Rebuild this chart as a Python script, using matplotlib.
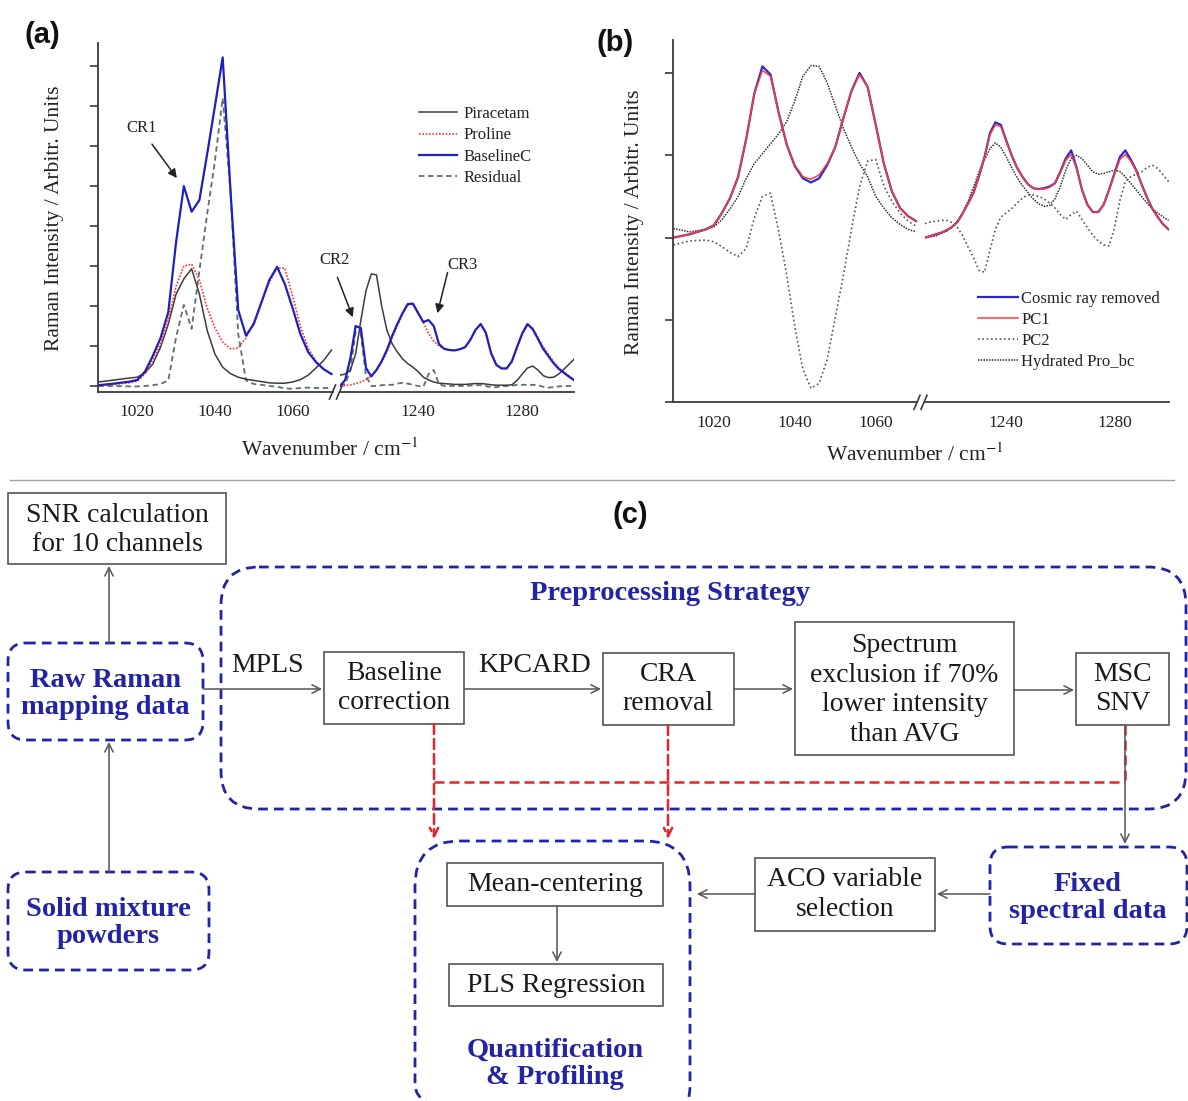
import matplotlib.pyplot as plt
from matplotlib.patches import FancyBboxPatch, Rectangle

plt.rcParams['font.family'] = ['Liberation Serif', 'DejaVu Serif']
plt.rcParams['mathtext.fontset'] = 'stix'

# ---------------- data: panel (a) ----------------
a_left_wn = [1010, 1014, 1018, 1020, 1022, 1024, 1026, 1028, 1030, 1032, 1034, 1036, 1038, 1040,
             1042, 1044, 1046, 1048, 1050, 1052, 1054, 1056, 1058, 1060, 1062, 1064, 1066, 1068, 1070]
a_piracetam_left = [0.1, 0.15, 0.2, 0.22, 0.33, 0.55, 0.97, 1.55, 2.3, 2.68, 2.93, 2.3, 1.39, 0.8,
                    0.47, 0.31, 0.22, 0.17, 0.14, 0.11, 0.08, 0.07, 0.07, 0.1, 0.16, 0.27, 0.45, 0.64, 0.9]
a_proline_left = [0.0, 0.04, 0.08, 0.12, 0.3, 0.65, 1.05, 1.65, 2.5, 3.0, 3.05, 2.65, 1.95, 1.45,
                  1.1, 0.93, 0.95, 1.2, 1.6, 2.1, 2.6, 2.95, 2.95, 2.25, 1.5, 0.95, 0.62, 0.42, 0.3]
a_baseline_left = [0.02, 0.06, 0.11, 0.15, 0.36, 0.75, 1.2, 1.85, 3.6, 5.0, 4.36, 4.65, 5.8, 7.0,
                   8.22, 4.9, 1.9, 1.26, 1.55, 2.1, 2.65, 2.98, 2.55, 1.95, 1.3, 0.85, 0.6, 0.42, 0.3]
a_residual_left = [0.0, 0.0, -0.01, -0.01, 0.0, 0.02, 0.05, 0.14, 1.22, 2.03, 1.43, 2.88, 4.3, 5.63,
                   7.2, 4.88, 1.3, 0.14, 0.05, 0.03, 0.0, -0.02, -0.06, -0.07, -0.05, -0.04, -0.05, -0.05, -0.05]

a_right_wn = [1210, 1212, 1214, 1216, 1218, 1220, 1222, 1224, 1226, 1228, 1230, 1232, 1234, 1236,
              1238, 1240, 1242, 1244, 1246, 1248, 1250, 1252, 1254, 1256, 1258, 1260, 1262, 1264,
              1266, 1268, 1270, 1272, 1274, 1276, 1278, 1280, 1282, 1284, 1286, 1288, 1290, 1292,
              1294, 1296, 1298, 1300]
a_piracetam_right = [0.27, 0.3, 0.4, 0.8, 1.64, 2.39, 2.8, 2.78, 2.0, 1.4, 1.06, 0.85, 0.68, 0.56,
                     0.47, 0.36, 0.22, 0.15, 0.1, 0.07, 0.06, 0.05, 0.04, 0.04, 0.04, 0.05, 0.06, 0.06,
                     0.05, 0.03, 0.02, 0.02, 0.02, 0.03, 0.14, 0.3, 0.45, 0.5, 0.4, 0.26, 0.21, 0.22,
                     0.3, 0.42, 0.55, 0.68]
a_proline_right = [0.0, 0.01, 0.03, 0.06, 0.1, 0.16, 0.25, 0.4, 0.6, 0.85, 1.2, 1.5, 1.8, 2.02,
                   2.05, 1.85, 1.58, 1.32, 1.12, 1.0, 0.93, 0.9, 0.89, 0.92, 0.97, 1.15, 1.4, 1.55,
                   1.35, 0.85, 0.55, 0.44, 0.43, 0.6, 0.97, 1.3, 1.52, 1.45, 1.22, 0.98, 0.8, 0.6,
                   0.45, 0.35, 0.25, 0.15]
a_baseline_right = [0.0, 0.15, 0.7, 1.5, 1.45, 0.45, 0.24, 0.4, 0.62, 0.9, 1.25, 1.55, 1.82, 2.05,
                    2.06, 1.82, 1.6, 1.65, 1.5, 1.05, 0.93, 0.9, 0.89, 0.92, 0.97, 1.15, 1.4, 1.55,
                    1.33, 0.82, 0.53, 0.44, 0.44, 0.62, 0.98, 1.32, 1.55, 1.42, 1.18, 0.93, 0.75, 0.57,
                    0.43, 0.33, 0.23, 0.14]
a_residual_right = [0.0, 0.05, 0.4, 1.35, 1.3, 0.25, 0.0, 0.0, 0.02, 0.03, 0.03, 0.06, 0.08, 0.06,
                    0.03, 0.0, -0.02, 0.3, 0.4, 0.05, 0.0, 0.0, 0.0, 0.0, 0.0, 0.01, 0.02, 0.02,
                    0.0, -0.03, -0.03, -0.01, 0.0, 0.01, 0.03, 0.03, 0.03, 0.03, 0.02, -0.02, -0.04, -0.03,
                    -0.01, 0.0, 0.0, 0.0]
a_labels = ['Piracetam', 'Proline', 'BaselineC', 'Residual']

# ---------------- data: panel (b) ----------------
b_left_wn = a_left_wn
b_cosmic_left = [0.0, 0.04, 0.1, 0.15, 0.3, 0.48, 0.74, 1.2, 1.75, 2.08, 1.98, 1.52, 1.13, 0.87,
                 0.72, 0.67, 0.72, 0.88, 1.1, 1.45, 1.78, 2.0, 1.83, 1.37, 0.9, 0.56, 0.36, 0.26, 0.2]
b_pc1_left = [0.0, 0.04, 0.1, 0.15, 0.3, 0.48, 0.74, 1.2, 1.75, 2.03, 1.96, 1.52, 1.13, 0.88,
              0.74, 0.71, 0.76, 0.9, 1.1, 1.45, 1.78, 1.98, 1.83, 1.37, 0.9, 0.56, 0.36, 0.26, 0.2]
b_pc2_left = [-0.09, -0.04, -0.03, -0.05, -0.11, -0.18, -0.23, -0.13, 0.24, 0.5, 0.54, 0.08, -0.45, -1.08,
              -1.6, -1.83, -1.77, -1.48, -0.97, -0.46, 0.1, 0.62, 0.93, 0.95, 0.63, 0.44, 0.3, 0.2, 0.14]
b_hydrated_left = [0.11, 0.07, 0.1, 0.13, 0.22, 0.35, 0.5, 0.72, 0.9, 1.02, 1.14, 1.26, 1.41, 1.66,
                   1.96, 2.09, 2.08, 1.88, 1.6, 1.33, 1.1, 0.9, 0.74, 0.5, 0.36, 0.24, 0.16, 0.1, 0.07]

b_right_wn = a_right_wn
b_cosmic_right = [0.0, 0.02, 0.04, 0.06, 0.09, 0.13, 0.19, 0.3, 0.42, 0.55, 0.75, 0.98, 1.27, 1.4,
                  1.37, 1.18, 1.0, 0.85, 0.74, 0.65, 0.6, 0.59, 0.6, 0.62, 0.66, 0.8, 0.96, 1.06,
                  0.85, 0.58, 0.4, 0.31, 0.31, 0.4, 0.58, 0.78, 0.98, 1.06, 0.95, 0.82, 0.65, 0.49,
                  0.35, 0.25, 0.16, 0.1]
b_pc1_right = [0.0, 0.02, 0.04, 0.06, 0.09, 0.13, 0.19, 0.3, 0.42, 0.55, 0.75, 0.98, 1.25, 1.37,
               1.35, 1.17, 1.0, 0.85, 0.74, 0.65, 0.6, 0.59, 0.59, 0.61, 0.66, 0.79, 0.94, 1.01,
               0.84, 0.58, 0.4, 0.31, 0.31, 0.4, 0.58, 0.77, 0.95, 1.01, 0.93, 0.81, 0.65, 0.49,
               0.35, 0.25, 0.16, 0.1]
b_pc2_right = [0.17, 0.19, 0.2, 0.21, 0.21, 0.18, 0.12, 0.02, -0.12, -0.25, -0.4, -0.42, -0.15, 0.1,
               0.25, 0.3, 0.35, 0.42, 0.48, 0.52, 0.52, 0.5, 0.47, 0.42, 0.36, 0.28, 0.22, 0.28,
               0.32, 0.22, 0.12, 0.03, -0.04, -0.09, -0.1, 0.12, 0.45, 0.68, 0.74, 0.77, 0.8, 0.85,
               0.88, 0.84, 0.76, 0.68]
b_hydrated_right = [0.0, 0.01, 0.02, 0.05, 0.08, 0.13, 0.2, 0.3, 0.45, 0.62, 0.8, 0.95, 1.08, 1.15,
                    1.1, 0.98, 0.85, 0.73, 0.63, 0.55, 0.47, 0.41, 0.38, 0.39, 0.47, 0.62, 0.82, 0.96,
                    1.0, 0.96, 0.88, 0.8, 0.77, 0.78, 0.8, 0.82, 0.8, 0.74, 0.66, 0.58, 0.5, 0.42,
                    0.35, 0.3, 0.25, 0.21]
b_labels = ['Cosmic ray removed', 'PC1', 'PC2', 'Hydrated Pro_bc']

left_ticks = [1020, 1040, 1060]
right_ticks = [1240, 1280]

W, H = 1188, 1101
fig = plt.figure(figsize=(W / 100, H / 100), dpi=100)


def rect(x0, y0, x1, y1):
    return [x0 / W, 1 - y1 / H, (x1 - x0) / W, (y1 - y0) / H]


# overlay in pixel coordinates for the flow chart and decorations
ov = fig.add_axes([0, 0, 1, 1])
ov.set_xlim(0, W)
ov.set_ylim(H, 0)
ov.axis('off')

axis_col = '#3a3a3a'
txt_col = '#222222'


def broken_axes(lx0, lx1, rx0, rx1, ytop, ybot, ylim, yticks):
    axL = fig.add_axes(rect(lx0, ytop, lx1, ybot))
    axR = fig.add_axes(rect(rx0, ytop, rx1, ybot))
    for ax in (axL, axR):
        ax.patch.set_alpha(0)
        ax.set_ylim(*ylim)
        for s in ('top', 'right'):
            ax.spines[s].set_visible(False)
        ax.spines['bottom'].set_color(axis_col)
        ax.spines['bottom'].set_linewidth(1.3)
        ax.tick_params(axis='x', length=0, pad=9, labelsize=12.5, labelcolor=txt_col)
    axL.spines['left'].set_color(axis_col)
    axL.spines['left'].set_linewidth(1.3)
    axL.set_yticks(yticks)
    axL.set_yticklabels([])
    axL.tick_params(axis='y', direction='out', length=6, width=1.2, color=axis_col)
    axR.spines['left'].set_visible(False)
    axR.set_yticks([])
    axL.set_xticks(left_ticks)
    axR.set_xticks(right_ticks)
    return axL, axR


# ---------------- panel (a) ----------------
aL, aR = broken_axes(98.4, 333, 340, 574.4, 43, 392, (-0.15, 8.58), range(9))
aL.set_xlim(1010, 1070.4)
aR.set_xlim(1210, 1300)

a_styles = [dict(color='#3c3c3c', lw=1.1, ls='-'),
            dict(color='#ff3030', lw=1.2, ls=(0, (1, 1))),
            dict(color='#1f1fbf', lw=1.6, ls='-'),
            dict(color='#5e6f6f', lw=1.3, ls=(0, (3, 2)))]
a_left = [a_piracetam_left, a_proline_left, a_baseline_left, a_residual_left]
a_right = [a_piracetam_right, a_proline_right, a_baseline_right, a_residual_right]
handles_a = [None] * 4
for i in [3, 0, 1, 2]:
    handles_a[i], = aL.plot(a_left_wn, a_left[i], label=a_labels[i], **a_styles[i])
    aR.plot(a_right_wn, a_right[i], **a_styles[i])

arrow_kw = dict(arrowstyle='-|>', color='#222222', lw=1.1, mutation_scale=13, shrinkA=0, shrinkB=0)
aL.text(1021.2, 6.45, 'CR1', fontsize=12, ha='center', va='center', color=txt_col)
aL.annotate('', xy=(1030.2, 5.2), xytext=(1023.8, 6.05), arrowprops=arrow_kw)
aR.text(1208, 3.16, 'CR2', fontsize=12, ha='center', va='center', color=txt_col, clip_on=False)
aR.annotate('', xy=(1214.9, 1.72), xytext=(1209, 2.72), arrowprops=arrow_kw, annotation_clip=False)
aR.text(1257.2, 3.03, 'CR3', fontsize=12, ha='center', va='center', color=txt_col)
aR.annotate('', xy=(1247.4, 1.82), xytext=(1251.3, 2.84), arrowprops=arrow_kw)

fig.legend(handles_a, a_labels, loc='upper left', bbox_to_anchor=(419 / W, 1 - 106 / H),
           frameon=False, fontsize=12, handlelength=2.3, handletextpad=0.35, labelspacing=0.32,
           borderpad=0, borderaxespad=0, labelcolor=txt_col)

fig.text(55 / W, 1 - 218 / H, 'Raman Intensity / Arbitr. Units', rotation=90, ha='center',
         va='center', fontsize=15.5, color=txt_col)
fig.text(330 / W, 1 - 450 / H, 'Wavenumber / cm$^{-1}$', ha='center', va='center',
         fontsize=15.5, color=txt_col)

# ---------------- panel (b) ----------------
bL, bR = broken_axes(673.4, 917, 925, 1168.6, 40, 402.3, (-2, 2.4), [-2, -1, 0, 1, 2])
bL.set_xlim(1010, 1070.2)
bR.set_xlim(1210, 1300)

b_styles = [dict(color='#2a2acc', lw=1.6, ls='-'),
            dict(color='#ff3a3a', lw=1.1, ls='-'),
            dict(color='#555555', lw=1.2, ls=(0, (1, 1.6))),
            dict(color='#333333', lw=1.1, ls=(0, (1, 0.8)))]
b_left = [b_cosmic_left, b_pc1_left, b_pc2_left, b_hydrated_left]
b_right = [b_cosmic_right, b_pc1_right, b_pc2_right, b_hydrated_right]
handles_b = [None] * 4
for i in [3, 2, 0, 1]:
    handles_b[i], = bL.plot(b_left_wn, b_left[i], label=b_labels[i], **b_styles[i])
    bR.plot(b_right_wn, b_right[i], **b_styles[i])

fig.legend(handles_b, b_labels, loc='upper left', bbox_to_anchor=(978 / W, 1 - 291 / H),
           frameon=False, fontsize=12, handlelength=2.4, handletextpad=0.2, labelspacing=0.3,
           borderpad=0, borderaxespad=0, labelcolor=txt_col)

fig.text(634 / W, 1 - 222 / H, 'Raman Intensity / Arbitr. Units', rotation=90, ha='center',
         va='center', fontsize=15.5, color=txt_col)
fig.text(915 / W, 1 - 455 / H, 'Wavenumber / cm$^{-1}$', ha='center', va='center',
         fontsize=15.5, color=txt_col)

# break marks on the x axes
for xb, yb in [(336.5, 392), (921, 402.3)]:
    for dx in (-4, 3):
        ov.plot([xb + dx - 3, xb + dx + 3], [yb + 7, yb - 7], color=axis_col, lw=1.2)

# panel labels
for lab, (x, y) in [('(a)', (42, 35)), ('(b)', (615, 43)), ('(c)', (630, 515))]:
    ov.text(x, y, lab, fontsize=21, fontweight='bold', family=['Liberation Sans', 'DejaVu Sans'],
            ha='center', va='center', color='#111111')

# separator
ov.plot([10, 1174], [480, 480], color='#a0a0a0', lw=1.0)

# ---------------- panel (c): flow chart ----------------
blue = '#2323a6'
red = '#e8232a'
grey = '#555555'


def box(x0, y0, x1, y1, text, cx=None, cy=None):
    ov.add_patch(Rectangle((x0, y0), x1 - x0, y1 - y0, fill=False, ec=grey, lw=1.2))
    cx = (x0 + x1) / 2 if cx is None else cx
    cy = (y0 + y1) / 2 if cy is None else cy
    ov.text(cx, cy, text, fontsize=20, ha='center', va='center', color='#1a1a1a',
            linespacing=1.25, multialignment='center')


def dbox(x0, y0, x1, y1, r, text=None, cx=None, cy=None):
    ov.add_patch(FancyBboxPatch((x0, y0), x1 - x0, y1 - y0,
                                boxstyle='round,pad=0,rounding_size=%d' % r,
                                fill=False, ec=blue, lw=2.0, ls=(0, (3.5, 2.2))))
    if text:
        cx = (x0 + x1) / 2 if cx is None else cx
        cy = (y0 + y1) / 2 if cy is None else cy
        ov.text(cx, cy, text, fontsize=20.5, fontweight='bold', ha='center', va='center',
                color=blue, linespacing=1.1, multialignment='center')


def arrow(x0, y0, x1, y1, color=grey, ls='-', lw=1.1):
    ov.annotate('', xy=(x1, y1), xytext=(x0, y0),
                arrowprops=dict(arrowstyle='->,head_length=0.6,head_width=0.3', color=color,
                                lw=lw, ls=ls, shrinkA=0, shrinkB=0))


dbox(221, 567, 1186, 809, 38)
ov.text(670, 593, 'Preprocessing Strategy', fontsize=20.5, fontweight='bold', ha='center',
        va='center', color=blue)
dbox(8, 643, 203, 740, 18, 'Raw Raman\nmapping data', cy=694)
dbox(8, 872, 209, 970, 18, 'Solid mixture\npowders', cy=923)
dbox(990, 847, 1187, 944, 18, 'Fixed\nspectral data', cx=1088, cy=898)
dbox(415, 841, 690, 1130, 45)
ov.text(555, 1064, 'Quantification\n& Profiling', fontsize=20.5, fontweight='bold', ha='center',
        va='center', color=blue, linespacing=1.12)

box(8, 493, 226, 564, 'SNR calculation\nfor 10 channels', cy=530)
box(324, 652, 464, 724, 'Baseline\ncorrection')
box(603, 653, 734, 725, 'CRA\nremoval')
box(795, 622, 1014, 755, 'Spectrum\nexclusion if 70%\nlower intensity\nthan AVG', cy=690)
box(1076, 653, 1169, 725, 'MSC\nSNV')
box(755, 858, 935, 931, 'ACO variable\nselection')
box(447, 863, 663, 906, 'Mean-centering')
box(449, 964, 663, 1006, 'PLS Regression')

ov.text(268, 665, 'MPLS', fontsize=20, ha='center', va='center', color='#1a1a1a')
ov.text(535, 665, 'KPCARD', fontsize=20, ha='center', va='center', color='#1a1a1a')

arrow(109, 643, 109, 566)
arrow(109, 872, 109, 742)
arrow(203, 689, 322, 689)
arrow(464, 689, 601, 689)
arrow(734, 689, 793, 689)
arrow(1014, 690, 1074, 690)
arrow(1125, 725, 1125, 844)
arrow(990, 894, 937, 894)
arrow(755, 894, 697, 894)
arrow(557, 906, 557, 962)

# red dashed feedback lines
red_ls = (0, (4, 2))
ov.plot([434, 1125], [782, 782], color=red, lw=1.8, ls=red_ls)
ov.plot([1125, 1125], [725, 782], color=red, lw=1.8, ls=red_ls)
arrow(434, 724, 434, 839, color=red, ls=red_ls, lw=1.8)
arrow(668, 725, 668, 839, color=red, ls=red_ls, lw=1.8)

fig.savefig('out.png', dpi=100)
